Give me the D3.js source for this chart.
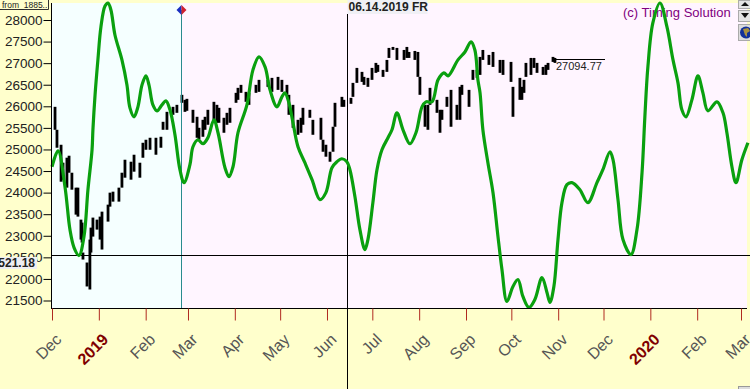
<!DOCTYPE html>
<html>
<head>
<meta charset="utf-8">
<script src="https://cdn.jsdelivr.net/npm/d3@7"></script>
<style>
html, body { margin:0; padding:0; background:#ffffcc; overflow:hidden; }
svg { display:block; font-family:"Liberation Sans", Arial, sans-serif; }
</style>
</head>
<body>
<div id="content"></div>
<script>
// days are counted from 2018-12-01
const startDate = new Date(2018, 11, 1);

//////////////////// price bars
const priceDays = [2,3.3,6,7.3,9.9,11.3,13.2,15.9,17.2,19.2,19.9,20.5,23.2,25.1,25.8,27.1,29.8,31.8,33.1,37.1,38.4,40.4,44.3,46.3,48.3,52.3,54.3,58.2,60.2,62.2,64.9,68.8,72.1,73.5,76.1,80.1,82.7,86,88,89.3,93.3,96,97.3,99.9,101.3,103.2,107.2,109.2,110.5,113.8,115.8,117.8,121.8,123.1,125.1,128.4,130.4,135,137,142.9,145.6,149.6,152.2,155.5,156.8,159.5,162.8,164.8,166.1,170.7,172.7,178,179.4,181.3,184,186,187.3,191.9,193.2,197.9,199.2,201.8,205.2,206.5,209.1,211.8,214.4,215.7,219.1,221.7,223,225.7,228.3,233,234.9,236.3,240.2,242.2,243.5,246.9,248.8,250.2,254.8,256.8,258.1,261.4,264.1,268,270,271.3,276,278.6,281.3,283.3,285.2,289.2,291.9,296.5,298.5,303.8,305.1,309.7,311,312.4,313.7,317,319,321,325,326.9,328.3,331.6,332.9];
const priceHigh = [25988,25456,25109,24693,24809,24855,24461,24115,24115,23374,23305,22611,22380,22912,23189,23421,23374,23444,23559,23721,23999,24022,24115,24461,24762,24716,24878,24693,25155,25225,25271,25271,25294,25641,25872,25988,26034,26266,26150,26173,25919,25757,25502,25687,25757,25919,26104,26034,25965,25734,25849,25965,26312,26428,26497,26335,26312,26497,26613,26613,26659,26682,26613,26497,26266,26034,25687,25734,25965,25919,25687,25734,25225,25109,24947,25526,26081,26219,26150,26196,26543,26890,26798,26682,26659,26890,27006,26960,26844,27075,27353,27376,27353,27306,27376,27260,27283,27260,26682,26034,26034,26428,26150,25919,25919,26219,26381,26034,26451,26497,26381,26844,26844,27145,27306,27191,27260,27075,27075,27029,26451,26659,26451,26613,27006,27121,27121,27006,26913,26960,27006,27145,27121];
const priceLow = [25456,25040,24253,24300,24115,24461,24068,23490,23444,22912,22842,22449,21825,21755,22611,22981,23143,22912,22681,23328,23675,23791,23791,24115,24346,24300,24485,24346,24808,24993,24993,24878,25040,25456,25456,25803,25849,26081,25872,25896,25618,25271,25225,25294,25456,25572,25687,25618,25618,25387,25572,25618,26081,26150,26312,26104,26034,26312,26335,26451,26335,26381,26335,26266,25803,25502,25340,25387,25572,25734,25340,25225,24947,24832,24716,24947,25526,25988,25988,26058,26219,26543,26566,26497,26451,26613,26775,26798,26682,26798,27121,27307,27075,27075,27121,27121,27075,26682,26266,25526,25456,26034,25849,25387,25687,25988,25526,25687,25687,26266,25988,26613,26659,26728,27075,26960,26913,26775,26728,26566,25757,26150,26150,26312,26682,26728,26890,26775,26728,26728,26844,27029,27006];

//////////////////// green projection line
const greenDays = [0,4,8.6,11.9,14.6,17.9,21.2,23.8,26.5,27.1,28.5,30.4,32.4,35.1,37.1,39,41.7,46.3,49.6,51.6,54.3,56.9,59.6,62.2,64.2,66.8,69.5,72.8,75.4,78.1,81.4,84.7,87.4,91.3,93.3,96.6,99.9,103.2,107.2,109.9,114.5,117.1,119.8,123.1,129,133,137,141,144.3,148.9,152.2,154.2,156.8,159.5,162.8,167.4,172.1,177.4,181.3,185.3,188.6,191.9,195.2,197.2,200.5,203.8,207.1,209.1,212.4,215.1,218.4,222.4,225,228.3,232.3,236.9,240.9,244.9,247.5,251.5,255.5,259.4,262.1,268.7,273.3,277.3,279.9,281.9,283.3,285.2,288.5,291.9,295.2,297.8,301.1,305.1,308.4,311.7,315.7,319.6,324.3,327.6,329.6,332.2,334.9,337.5,340.8,344.1,349.4,354.7,360.7,364.6,369.3,371.3,374.6,377.9,383.2,387.2,390.5,392.4,394.4,397.7,402.4,407,411,414.3,416.9,419.6,423.5,427.5,430.8,434.1,440.1,444.1,446.7,450,452.7,456.6,460.6];
const greenValues = [24600,24970,24138,23143,22727,22542,22981,24068,24993,25456,26266,27075,27838,28324,28394,28232,27653,27075,26497,25965,25757,25988,26497,26705,26497,26034,25896,26034,26127,25919,25340,24531,24230,24647,25063,25225,25132,25271,25687,25387,24577,24369,24600,25387,26034,26844,27145,26913,26381,25988,26219,26312,26081,25618,25063,24693,24300,23837,24000,24577,24716,24785,24716,24531,23906,23143,22680,22912,23768,24531,24993,25271,25456,25849,25456,25132,25387,25988,26104,26104,26613,26775,26705,27075,27260,27492,27306,26613,26312,25456,24693,23999,22981,22218,21478,21825,21987,21593,21339,21524,22033,21686,21455,21825,22912,23768,24184,24230,24068,23768,24230,24531,24947,24762,23837,22912,22565,23143,24462,25757,26913,27931,28394,27838,27075,26543,25919,25757,26150,26705,26312,25896,26104,25849,25387,24600,24230,24762,25156];

//////////////////// axis labels
const yTicks = [21500,22000,22500,23000,23500,24000,24500,25000,25500,26000,26500,27000,27500,28000];
const monthTicks = ["2018-12-01","2019-01-01","2019-02-01","2019-03-01","2019-04-01","2019-05-01","2019-06-01","2019-07-01","2019-08-01","2019-09-01","2019-10-01","2019-11-01","2019-12-01","2020-01-01","2020-02-01","2020-03-01"];
const monthLabels = ["Dec","2019","Feb","Mar","Apr","May","Jun","Jul","Aug","Sep","Oct","Nov","Dec","2020","Feb","Mar"];

const splitDate = "2019-02-25";   // where the background changes, blue/red marker
const cursorDate = "2019-06-14";
const cursorValue = 22521.18;
const lastValue = 27094.77;

//////////////////// drawing-area definition
const W = 750, H = 389;
const plot = { left:51, right:747, top:3, bottom:308 };

const parseDay = d3.timeParse("%Y-%m-%d");
const xScale = d3.scaleTime()
    .domain([startDate, parseDay("2020-03-01")])
    .range([52, 741]);
const yScale = d3.scaleLinear()
    .domain([21500, 28000])
    .range([300.5, 20]);
const xDay = (n) => xScale(d3.timeHour.offset(startDate, n*24));

const svg = d3.select("#content")
    .append("svg")
    .attr("width",  W)
    .attr("height", H);

svg.append("rect").attr("width", W).attr("height", H).attr("fill", "#ffffcc");

// plot background, two tones
const splitX = Math.round(xScale(parseDay(splitDate)))-0.5;
svg.append("rect")
    .attr("x", plot.left).attr("y", plot.top)
    .attr("width", splitX-plot.left).attr("height", plot.bottom-plot.top)
    .attr("fill", "#f5ffff");
svg.append("rect")
    .attr("x", splitX).attr("y", plot.top)
    .attr("width", plot.right-splitX).attr("height", plot.bottom-plot.top)
    .attr("fill", "#fff5ff");

// price bars
const bars = svg.append("g").attr("stroke", "#000").attr("stroke-width", 2.8);
bars.selectAll("line").data(priceDays)
    .enter().append("line")
        .attr("x1", d => xDay(d))
        .attr("x2", d => xDay(d))
        .attr("y1", (d,i) => yScale(priceHigh[i]))
        .attr("y2", (d,i) => yScale(priceLow[i]));

// last value
const lastY = Math.round(yScale(lastValue))+0.5;
svg.append("line")
    .attr("x1", 555).attr("x2", 605)
    .attr("y1", lastY).attr("y2", lastY)
    .attr("stroke", "#000");
svg.append("text")
    .attr("x", 556).attr("y", lastY+10)
    .attr("font-size", 11).attr("fill", "#222")
    .text(lastValue);

// marker line
svg.append("line")
    .attr("x1", splitX).attr("x2", splitX)
    .attr("y1", 10).attr("y2", plot.bottom)
    .attr("stroke", "#2a8a8f");
svg.append("path").attr("d", `M${splitX-5},10L${splitX},5L${splitX},15Z`).attr("fill", "#1a2fc0");
svg.append("path").attr("d", `M${splitX+5},10L${splitX},5L${splitX},15Z`).attr("fill", "#d02030");

// copyright goes under the green line
svg.append("text")
    .attr("x", 623).attr("y", 17)
    .attr("font-size", 13).attr("fill", "#800080")
    .text("(c) Timing Solution");

// cursor
const cursorX = Math.round(xScale(parseDay(cursorDate)))+0.5;
const cursorY = Math.round(yScale(cursorValue))-0.5;
svg.append("line")
    .attr("x1", plot.left).attr("x2", W)
    .attr("y1", cursorY).attr("y2", cursorY)
    .attr("stroke", "#000");
svg.append("line")
    .attr("x1", cursorX).attr("x2", cursorX)
    .attr("y1", 14).attr("y2", H)
    .attr("stroke", "#000");

// green line
const greenLine = d3.line()
    .x(d => xDay(d))
    .y((d,i) => yScale(greenValues[i]))
    .curve(d3.curveCatmullRom.alpha(0.5));
svg.append("path")
    .attr("d", greenLine(greenDays))
    .attr("fill", "none")
    .attr("stroke", "#0aa00f")
    .attr("stroke-width", 3.2);

// left + bottom axis lines
svg.append("line").attr("x1", plot.left+0.5).attr("x2", plot.left+0.5).attr("y1", plot.top).attr("y2", plot.bottom).attr("stroke", "#000");
svg.append("line").attr("x1", plot.left).attr("x2", plot.right).attr("y1", plot.bottom+0.5).attr("y2", plot.bottom+0.5).attr("stroke", "#000");

// y axis
const yAxis = svg.append("g")
    .attr("transform", "translate("+(plot.left+0.5)+",0)")
    .call(d3.axisLeft(yScale).tickValues(yTicks).tickFormat(d3.format("d")).tickSize(8).tickPadding(1));
yAxis.select(".domain").remove();
yAxis.selectAll("text").attr("font-size", 13.5).attr("font-family", "Liberation Sans").attr("fill", "#222");

// x axis, ticks in dark red, slanted month names
const xAxis = svg.append("g")
    .attr("transform", "translate(0,"+(plot.bottom+0.5)+")")
    .call(d3.axisBottom(xScale).tickValues(monthTicks.map(parseDay)).tickSize(12).tickFormat((d,i) => monthLabels[i]));
xAxis.select(".domain").remove();
xAxis.selectAll("line").attr("stroke", "#b02a20");
xAxis.selectAll("text")
    .attr("font-family", "Liberation Sans")
    .attr("text-anchor", "end")
    .attr("y", 0).attr("dy", 0)
    .attr("transform", "translate(10,32)rotate(-45)")
    .attr("font-size", 16)
    .attr("font-weight", d => d.getMonth()==0 ? "bold" : "normal")
    .attr("fill", d => d.getMonth()==0 ? "#800000" : "#555");

// cursor labels
svg.append("clipPath").attr("id", "cursorClip").append("rect").attr("width", 37).attr("height", H);
svg.append("rect").attr("x", 0).attr("y", 257).attr("width", 37).attr("height", 12).attr("fill", "#eeeef2");
svg.append("text")
    .attr("x", 35).attr("y", 267)
    .attr("text-anchor", "end")
    .attr("font-size", 12).attr("font-weight", "bold").attr("fill", "#222")
    .attr("clip-path", "url(#cursorClip)")
    .text("22521.18");

svg.append("rect").attr("x", cursorX).attr("y", 0).attr("width", 80).attr("height", 14).attr("fill", "#f0f0f5");
svg.append("text")
    .attr("x", cursorX+1).attr("y", 11)
    .attr("font-size", 12).attr("font-weight", "bold").attr("fill", "#222")
    .text("06.14.2019 FR");

// file name tab, top left
svg.append("clipPath").attr("id", "tabClip").append("rect").attr("width", 48).attr("height", 10);
svg.append("path").attr("d", "M0,9.5H48.5V0").attr("fill", "none").attr("stroke", "#333");
svg.append("text")
    .attr("x", -7).attr("y", 8)
    .attr("font-size", 8.5).attr("fill", "#222")
    .attr("clip-path", "url(#tabClip)")
    .text("v_from_1885..");

// buttons on the right edge
[[0,8],[10,11]].forEach(b => {
    svg.append("rect").attr("x", 738.5).attr("y", b[0]+0.5).attr("width", 13).attr("height", b[1]).attr("fill", "#e4e4e4").attr("stroke", "#aaa");
});
svg.append("path").attr("d", "M745,2L741,6H749Z").attr("fill", "#111");
svg.append("path").attr("d", "M745,18L741,13H749Z").attr("fill", "#111");
svg.append("rect").attr("x", 738.5).attr("y", 24.5).attr("width", 13).attr("height", 16).attr("fill", "#dcdcdc").attr("stroke", "#aaa");
svg.append("circle").attr("cx", 746).attr("cy", 32.5).attr("r", 6).attr("fill", "#12309a");
svg.append("path").attr("d", "M743,29L748,28L750,31L747,33L747,37L745,35Z").attr("fill", "#a89040");
svg.append("rect").attr("x", 738.5).attr("y", 386.5).attr("width", 13).attr("height", 4).attr("fill", "#ddd").attr("stroke", "#999");
</script>
</body>
</html>
